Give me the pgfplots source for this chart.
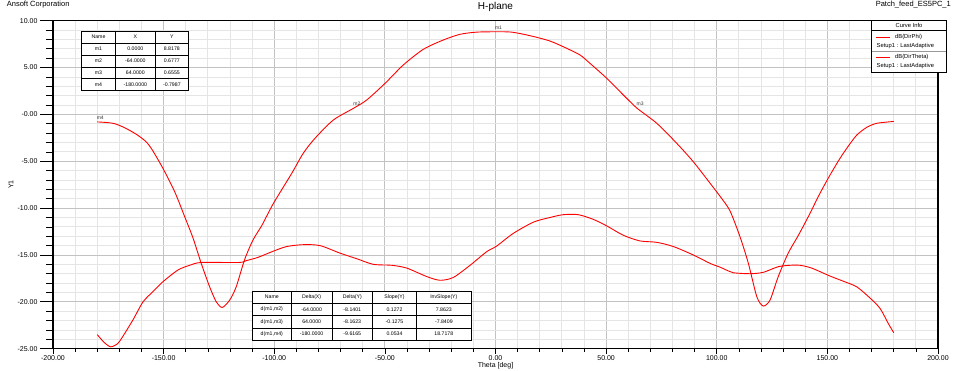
\documentclass[border=0pt]{standalone}
\usepackage{fontspec}
\setmainfont{Liberation Sans}
\usepackage{pgfplots}
\pgfplotsset{compat=1.18}
\begin{document}
\begin{tikzpicture}[x=1pt,y=1pt]
\useasboundingbox (-53,-22.3) rectangle (907,348.7);
\begin{axis}[
 at={(0,0)}, anchor=south west,
 scale only axis, width=885pt, height=328pt,
 xmin=-200, xmax=200, ymin=-25, ymax=10,
 xtick={-200,-150,...,200},
 xticklabels={-200.00,-150.00,-100.00,-50.00,0.00,50.00,100.00,150.00,200.00},
 ytick={-25,-20,...,10},
 yticklabels={-25.00,-20.00,-15.00,-10.00,-5.00,-0.00,5.00,10.00},
 minor x tick num=4, minor y tick num=4,
 grid=both,
 major grid style={color=black!24, line width=0.8pt},
 minor grid style={color=black!10, line width=0.8pt},
 tick align=outside, tickpos=left,
 major tick length=5pt, minor tick length=3pt,
 ytick style={/pgfplots/major tick length=13pt, /pgfplots/minor tick length=6.5pt},
 tick style={black, line width=0.7pt},
 axis line style={line width=1.2pt},
 tick label style={font=\fontsize{7}{8}\selectfont},
 xticklabel style={yshift=1.5pt},
 yticklabel style={xshift=-7pt},
 xlabel={Theta [deg]}, ylabel={Y1},
 every axis x label/.style={at={(axis description cs:0.5,-0.051)}, anchor=center, font=\fontsize{7}{8}\selectfont},
 every axis y label/.style={at={(axis description cs:-0.0475,0.5)}, rotate=90, anchor=center, font=\fontsize{7}{8}\selectfont},
 title={H-plane},
 every axis title/.style={at={(axis description cs:0.5,1.0418)}, anchor=center, font=\fontsize{10}{12}\selectfont},
 clip=false,
]
% dB(DirPhi)
\addplot[red, line width=0.9pt, smooth, tension=0.45] coordinates {
(-180,-0.80) (-175,-0.88) (-172,-1.0) (-167.6,-1.42) (-162.3,-2.13) (-158,-2.9)
(-155.1,-3.80) (-150.3,-5.76) (-145,-8.25) (-140.5,-10.9) (-136.7,-13.2) (-133,-15.9)
(-129.2,-18.4) (-126.2,-20.0) (-123.5,-20.6) (-120.1,-19.8) (-117.2,-18.4) (-113.4,-15.5)
(-109.6,-13.4) (-105.5,-11.8) (-100.5,-9.55) (-92.1,-6.29) (-86.9,-4.15) (-81.6,-2.55)
(-73.3,-0.60) (-64,0.6777) (-58.2,1.54) (-49.9,3.32) (-41.7,5.27) (-32.6,6.95)
(-23.6,7.94) (-16,8.55) (-8.5,8.78) (0,8.8178) (7.3,8.78) (15.6,8.4) (24.6,7.83)
(32.2,7.05) (38.2,6.34) (42.7,5.45) (50.3,3.85) (57.8,2.07) (64,0.6555) (72.9,-0.95)
(81.9,-3.08) (89.4,-5.05) (97,-7.35) (102,-8.9) (106,-10.3) (110.5,-13.05) (114.3,-15.9)
(118.1,-19.45) (121,-20.45) (124.1,-19.8) (127.8,-17.3) (132.3,-14.8) (136.9,-12.9)
(141.4,-10.9) (146.7,-8.4) (151.2,-6.47) (155.7,-4.69) (159.5,-3.37) (163.3,-2.2)
(167.8,-1.38) (172.3,-0.95) (180,-0.75)
};
% dB(DirTheta)
\addplot[red, line width=0.9pt, smooth, tension=0.45] coordinates {
(-180,-23.5) (-177,-24.3) (-174,-24.8) (-171,-24.5) (-169,-23.9) (-163.8,-21.9)
(-159.3,-20.0) (-154.8,-18.9) (-150.3,-17.85) (-143.5,-16.6) (-138.2,-16.1) (-133,-15.8)
(-116,-15.8) (-112.6,-15.6) (-107.3,-15.25) (-100.5,-14.6) (-94.4,-14.1) (-86.9,-13.9)
(-79.3,-14.0) (-70.3,-14.8) (-62.7,-15.4) (-55.2,-16.0) (-46.9,-16.1) (-40.1,-16.4)
(-31.1,-17.3) (-25.1,-17.7) (-19.1,-17.4) (-11.5,-16.1) (-4,-14.65) (0.5,-14.05)
(8,-12.7) (17.1,-11.5) (24.6,-11.0) (30.6,-10.7) (37.4,-10.7) (44.2,-11.2) (50.3,-11.9)
(57.8,-12.9) (65.3,-13.5) (72.9,-13.65) (80.4,-14.1) (89.4,-15.0) (97,-15.9)
(101.5,-16.3) (105.2,-16.7) (107.5,-16.9) (115,-17.0) (121,-16.85) (127.8,-16.25)
(133.1,-16.1) (137.6,-16.1) (142.9,-16.4) (151.2,-17.25) (157.2,-17.8) (163.3,-18.4)
(169.3,-19.6) (173.8,-20.7) (177.5,-22.3) (180,-23.3)
};
\begin{scope}[every node/.style={font=\fontsize{5}{6}\selectfont, text=black!80, inner sep=0pt, xshift=3pt, yshift=4pt}]
\node at (axis cs:0,8.8178) {m1};
\node at (axis cs:-64,0.6777) {m2};
\node at (axis cs:64,0.6555) {m3};
\node at (axis cs:-180,-0.7987) {m4};
\end{scope}
\end{axis}
% annotations in pixel coordinates (x right, y down)
\begin{scope}[shift={(-53,348.7)}, yscale=-1]
\node[anchor=west, font=\fontsize{7.5}{9}\selectfont, inner sep=0pt] at (6.7,5) {Ansoft Corporation};
\node[anchor=east, font=\fontsize{7.5}{9}\selectfont, inner sep=0pt] at (951,5) {Patch\_feed\_ES5PC\_1};
% marker table
\draw[fill=white, line width=0.9pt] (81.3,31) rectangle (188.7,90.7);
\draw[line width=0.7pt] (115.7,31) -- (115.7,90.7) (155,31) -- (155,90.7);
\foreach \yy in {43.3,55,67,78.7} \draw[line width=0.7pt] (81.3,\yy) -- (188.7,\yy);
\begin{scope}[every node/.style={font=\fontsize{5.2}{6}\selectfont, inner sep=0pt}]
\node at (98.5,37.15) {Name}; \node at (135.35,37.15) {X}; \node at (171.85,37.15) {Y};
\node at (98.5,49.15) {m1}; \node at (135.35,49.15) {0.0000}; \node at (171.85,49.15) {8.8178};
\node at (98.5,61) {m2}; \node at (135.35,61) {-64.0000}; \node at (171.85,61) {0.6777};
\node at (98.5,72.85) {m3}; \node at (135.35,72.85) {64.0000}; \node at (171.85,72.85) {0.6555};
\node at (98.5,84.7) {m4}; \node at (135.35,84.7) {-180.0000}; \node at (171.85,84.7) {-0.7987};
\end{scope}
% delta table
\draw[fill=white, line width=0.9pt] (252.7,291) rectangle (471,340.3);
\foreach \xx in {291,332.3,372.3,416.7} \draw[line width=0.7pt] (\xx,291) -- (\xx,340.3);
\foreach \yy in {303.3,315.6,327.9} \draw[line width=0.7pt] (252.7,\yy) -- (471,\yy);
\begin{scope}[every node/.style={font=\fontsize{5.2}{6}\selectfont, inner sep=0pt}]
\node at (271.85,297.15) {Name}; \node at (311.65,297.15) {Delta(X)}; \node at (352.3,297.15) {Delta(Y)}; \node at (394.5,297.15) {Slope(Y)}; \node at (443.85,297.15) {InvSlope(Y)};
\node at (271.85,309.45) {d(m1,m2)}; \node at (311.65,309.45) {-64.0000}; \node at (352.3,309.45) {-8.1401}; \node at (394.5,309.45) {0.1272}; \node at (443.85,309.45) {7.8623};
\node at (271.85,321.75) {d(m1,m3)}; \node at (311.65,321.75) {64.0000}; \node at (352.3,321.75) {-8.1623}; \node at (394.5,321.75) {-0.1275}; \node at (443.85,321.75) {-7.8409};
\node at (271.85,334.1) {d(m1,m4)}; \node at (311.65,334.1) {-180.0000}; \node at (352.3,334.1) {-9.6165}; \node at (394.5,334.1) {0.0534}; \node at (443.85,334.1) {18.7178};
\end{scope}
% curve info legend
\draw[fill=white, line width=0.9pt] (871.7,20.5) rectangle (946,72.3);
\draw[line width=0.6pt] (871.7,30.7) -- (946,30.7);
\draw[line width=0.6pt, black!40] (871.7,51.7) -- (946,51.7);
\fill[fill={rgb,255:red,255;green,0;blue,0}] (876,36.6) rectangle (889.5,38.0);
\fill[fill={rgb,255:red,255;green,0;blue,0}] (876,56.6) rectangle (889.5,58.0);
\begin{scope}[every node/.style={font=\fontsize{5.8}{7}\selectfont, inner sep=0pt}]
\node at (909,25.6) {Curve Info};
\node[anchor=west] at (895,37.3) {dB(DirPhi)};
\node[anchor=west] at (876.5,46) {Setup1 : LastAdaptive};
\node[anchor=west] at (895,57.3) {dB(DirTheta)};
\node[anchor=west] at (876.5,66) {Setup1 : LastAdaptive};
\end{scope}
\end{scope}
\end{tikzpicture}
\end{document}
